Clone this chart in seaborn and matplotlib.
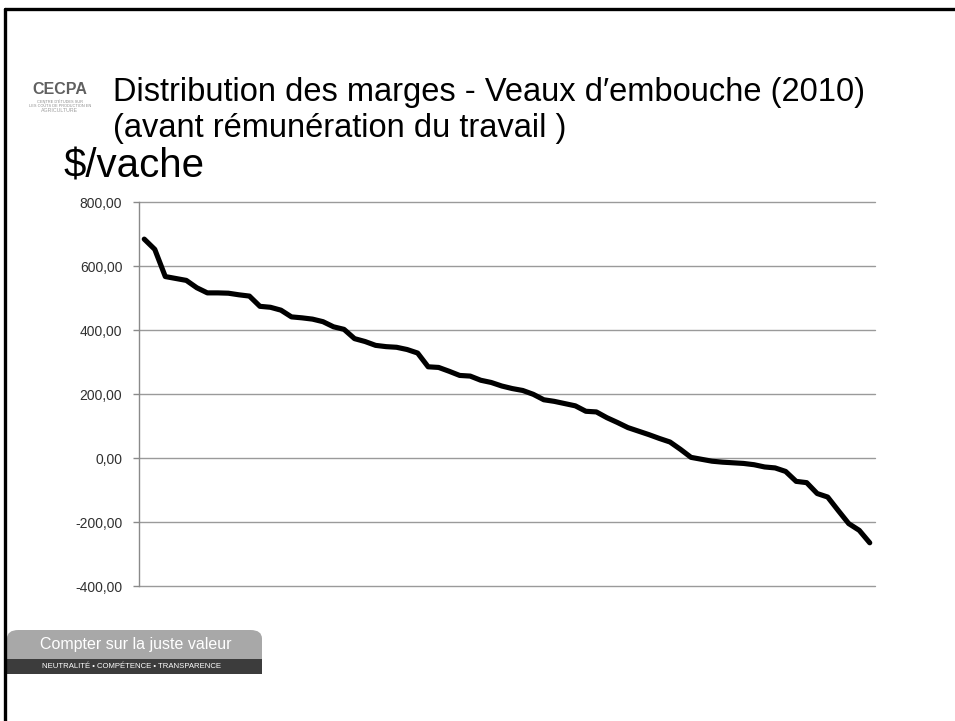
import matplotlib
matplotlib.use("Agg")
import matplotlib.pyplot as plt
import seaborn as sns
import pandas as pd
import numpy as np
from matplotlib.patches import Rectangle, FancyBboxPatch
from matplotlib.lines import Line2D
from matplotlib.ticker import FuncFormatter

title_line1 = "Distribution des marges - Veaux d\u2032embouche (2010)"
title_line2 = "(avant rémunération du travail )"
unit_label = "$/vache"
y_ticks = [-400, -200, 0, 200, 400, 600, 800]

marges = [684, 652, 567, 561, 555, 532, 516, 516, 515, 510,
          506, 474, 471, 462, 441, 438, 434, 426, 410, 402,
          373, 364, 352, 348, 346, 339, 328, 285, 283, 271,
          258, 256, 243, 236, 225, 217, 211, 199, 182, 177,
          170, 163, 146, 144, 126, 111, 95, 84, 73, 61,
          50, 27, 2, -4, -10, -13, -15, -17, -21, -28,
          -31, -42, -73, -77, -111, -122, -164, -205, -226, -265]
rang = list(range(1, len(marges) + 1))

df = pd.DataFrame({"rang": rang, "marge": marges})

sns.set_theme(style="white")
plt.rcParams['font.family'] = ['Liberation Sans', 'DejaVu Sans']

W, H = 955, 721
fig = plt.figure(figsize=(W / 100, H / 100), dpi=100)
fig.patch.set_facecolor("white")

def fx(x):
    return x / W

def fy(y):
    return 1 - y / H

ax = fig.add_axes([fx(139), fy(586), fx(875) - fx(139), fy(202) - fy(586)])
sns.lineplot(data=df, x="rang", y="marge", ax=ax, color="black", linewidth=3.7,
             solid_joinstyle="round", solid_capstyle="round")
ax.set_xlim(0.5, len(marges) + 0.5)
ax.set_ylim(-400, 800)
ax.set_yticks(y_ticks)
ax.yaxis.set_major_formatter(FuncFormatter(lambda v, p: f"{v:.2f}".replace(".", ",")))
ax.set_xticks([])
ax.set_xlabel("")
ax.set_ylabel("")
ax.grid(axis="y", color="#9a9a9a", linewidth=1.0)
ax.set_axisbelow(True)
for gl in ax.get_ygridlines():
    gl.set_clip_on(False)
for s in ["top", "right", "bottom"]:
    ax.spines[s].set_visible(False)
ax.spines["left"].set_color("#8a8a8a")
ax.spines["left"].set_linewidth(1.0)
ax.tick_params(axis="y", which="major", length=4, width=1, color="#8a8a8a",
               direction="out", left=True, pad=8, labelsize=10, labelcolor="#303030")

# slide border
fig.add_artist(Line2D([fx(5), fx(W + 5)], [fy(9), fy(9)], color="black", linewidth=2.4,
                      transform=fig.transFigure))
fig.add_artist(Line2D([fx(5), fx(5)], [fy(9), fy(H + 5)], color="black", linewidth=2.4,
                      transform=fig.transFigure))

# titles
fig.text(fx(113), fy(92), title_line1, fontsize=23.5, va="center", ha="left", color="black")
fig.text(fx(113), fy(128), title_line2, fontsize=23.5, va="center", ha="left", color="black")
fig.text(fx(63), fy(167), unit_label, fontsize=29, va="center", ha="left", color="black")

# logo
fig.text(fx(60), fy(90), "CECPA", fontsize=11.5, va="center", ha="center", color="#606060",
         fontweight="bold")
fig.text(fx(60), fy(102), "CENTRE D'ÉTUDES SUR", fontsize=2.8, va="center", ha="center",
         color="#8a8a8a")
fig.text(fx(60), fy(106), "LES COÛTS DE PRODUCTION EN", fontsize=2.8, va="center", ha="center",
         color="#8a8a8a")
fig.text(fx(60), fy(111), "AGRICULTURE", fontsize=3.8, va="center", ha="center",
         color="#a0a0a0")

# bottom banner
fig.add_artist(FancyBboxPatch((fx(7), fy(660)), fx(262) - fx(7), fy(630) - fy(660),
                              boxstyle="round,pad=0,rounding_size=0.012",
                              facecolor="#a8a8a8", edgecolor="none", transform=fig.transFigure))
fig.add_artist(Rectangle((fx(7), fy(660)), fx(262) - fx(7), fy(648) - fy(660),
                         facecolor="#a8a8a8", edgecolor="none", transform=fig.transFigure))
fig.add_artist(Rectangle((fx(7), fy(674)), fx(262) - fx(7), fy(659) - fy(674),
                         facecolor="#3c3c3c", edgecolor="none", transform=fig.transFigure))
fig.text(fx(40), fy(645), "Compter sur la juste valeur", fontsize=11.5, va="center", ha="left",
         color="white")
fig.text(fx(42), fy(666.5), "NEUTRALITÉ • COMPÉTENCE • TRANSPARENCE", fontsize=5.6, va="center",
         ha="left", color="white")

fig.savefig("out.png", dpi=100, facecolor="white")
